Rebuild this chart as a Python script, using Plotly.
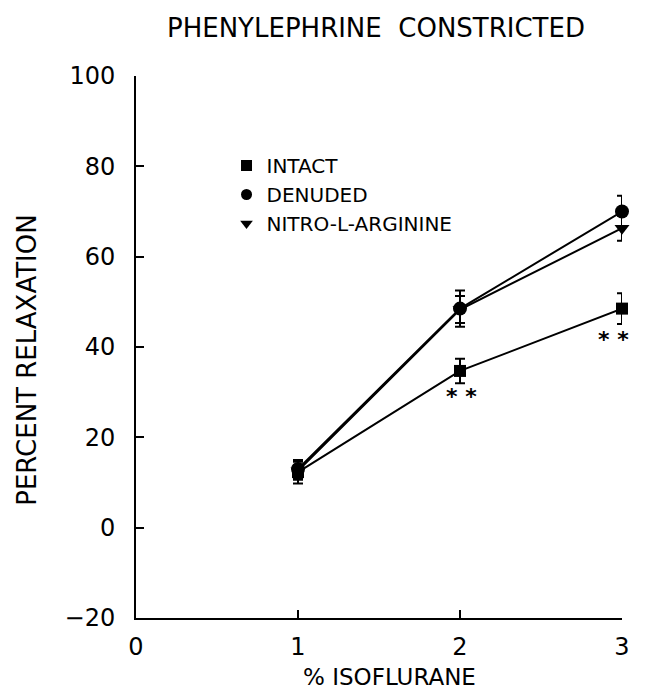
import plotly.graph_objects as go

# ---- data ----
isoflurane = [1, 2, 3]
intact = [12.3, 34.7, 48.5]
intact_err = [2.5, 2.7, 3.4]
denuded = [13.0, 48.5, 70.0]
denuded_err = [2.0, 4.0, 3.5]
nitro = [12.6, 48.3, 66.3]
nitro_err = [2.0, 3.0, 2.8]
series_names = ["INTACT", "DENUDED", "NITRO-L-ARGININE"]
x_ticks = [0, 1, 2, 3]
y_ticks = [-20, 0, 20, 40, 60, 80, 100]
signif_idx = [1, 2]  # intact points marked **

FONT = "DejaVu Sans"
BLACK = "black"

fig = go.Figure()

series = [
    (intact, intact_err, "square", 12),
    (denuded, denuded_err, "circle", 14),
    (nitro, nitro_err, "triangle-down", 13),
]

for (vals, errs, sym, sz), name in zip(series, series_names):
    fig.add_trace(go.Scatter(
        x=isoflurane, y=vals, mode="lines+markers",
        line=dict(color=BLACK, width=2),
        marker=dict(symbol=sym, size=sz, color=BLACK),
        error_y=dict(type="data", array=errs, visible=True,
                     color=BLACK, thickness=2, width=5),
        cliponaxis=False, showlegend=False,
    ))

# legend-only marker traces
for (vals, errs, sym, sz), name in zip(series, series_names):
    fig.add_trace(go.Scatter(
        x=[None], y=[None], mode="markers", name=name,
        marker=dict(symbol=sym, size=11, color=BLACK),
        legendgroup=name, showlegend=True,
    ))

# page body has an 8px default margin on every side: size the figure so the
# whole page fits the 646x699 window exactly
OFF = 8
W, H = 646 - 2 * OFF, 699 - 2 * OFF
L, T = 136 - OFF, 76 - OFF
R = W - (630 - OFF)
B = H - (618 - OFF)
pw, ph = W - L - R, H - T - B


def screen_to_paper(sx, sy):
    return (sx - OFF - L) / pw, (H - B - (sy - OFF)) / ph


annotations = []
for i, ys, xs in zip(signif_idx, [-26, -31], [1, -9]):
    annotations.append(dict(
        x=isoflurane[i], y=intact[i], xref="x", yref="y",
        text="<b>* *</b>", showarrow=False, yshift=ys, xshift=xs,
        xanchor="center", yanchor="middle",
        font=dict(family=FONT, size=22, color=BLACK),
    ))

tx, ty = screen_to_paper(380, 28)
annotations.append(dict(x=tx, y=ty, xref="paper", yref="paper",
                        xanchor="center", yanchor="middle",
                        text="PHENYLEPHRINE  CONSTRICTED", showarrow=False,
                        font=dict(family=FONT, size=26, color=BLACK)))
ax_, ay_ = screen_to_paper(394, 677)
annotations.append(dict(x=ax_, y=ay_, xref="paper", yref="paper",
                        xanchor="center", yanchor="middle",
                        text="% ISOFLURANE", showarrow=False,
                        font=dict(family=FONT, size=23, color=BLACK)))
bx, by = screen_to_paper(25, 360)
annotations.append(dict(x=bx, y=by, xref="paper", yref="paper",
                        xanchor="center", yanchor="middle",
                        text="PERCENT RELAXATION", showarrow=False, textangle=-90,
                        font=dict(family=FONT, size=26, color=BLACK)))

lx, ly = screen_to_paper(228, 146)

fig.update_layout(
    width=W, height=H,
    margin=dict(l=L, r=R, t=T, b=B),
    paper_bgcolor="white", plot_bgcolor="white",
    font=dict(family=FONT, color=BLACK),
    annotations=annotations,
    legend=dict(x=lx, y=ly, xanchor="left", yanchor="top",
                font=dict(family=FONT, size=20, color=BLACK),
                bgcolor="rgba(0,0,0,0)", tracegroupgap=0,
                itemwidth=30),
    xaxis=dict(range=[0, 3], tickvals=x_ticks, ticktext=[str(v) for v in x_ticks],
               showline=True, linecolor=BLACK, linewidth=2,
               ticks="inside", ticklen=8, tickwidth=2, tickcolor=BLACK,
               showgrid=False, zeroline=False,
               tickfont=dict(family=FONT, size=24, color=BLACK),
               ticklabelstandoff=6),
    yaxis=dict(range=[-20, 100], tickvals=y_ticks,
               ticktext=[str(v).replace("-", "\u2212") for v in y_ticks],
               showline=True, linecolor=BLACK, linewidth=2,
               ticks="inside", ticklen=8, tickwidth=2, tickcolor=BLACK,
               showgrid=False, zeroline=False,
               tickfont=dict(family=FONT, size=24, color=BLACK),
               ticklabelstandoff=14),
)

fig.write_html("out.html")
